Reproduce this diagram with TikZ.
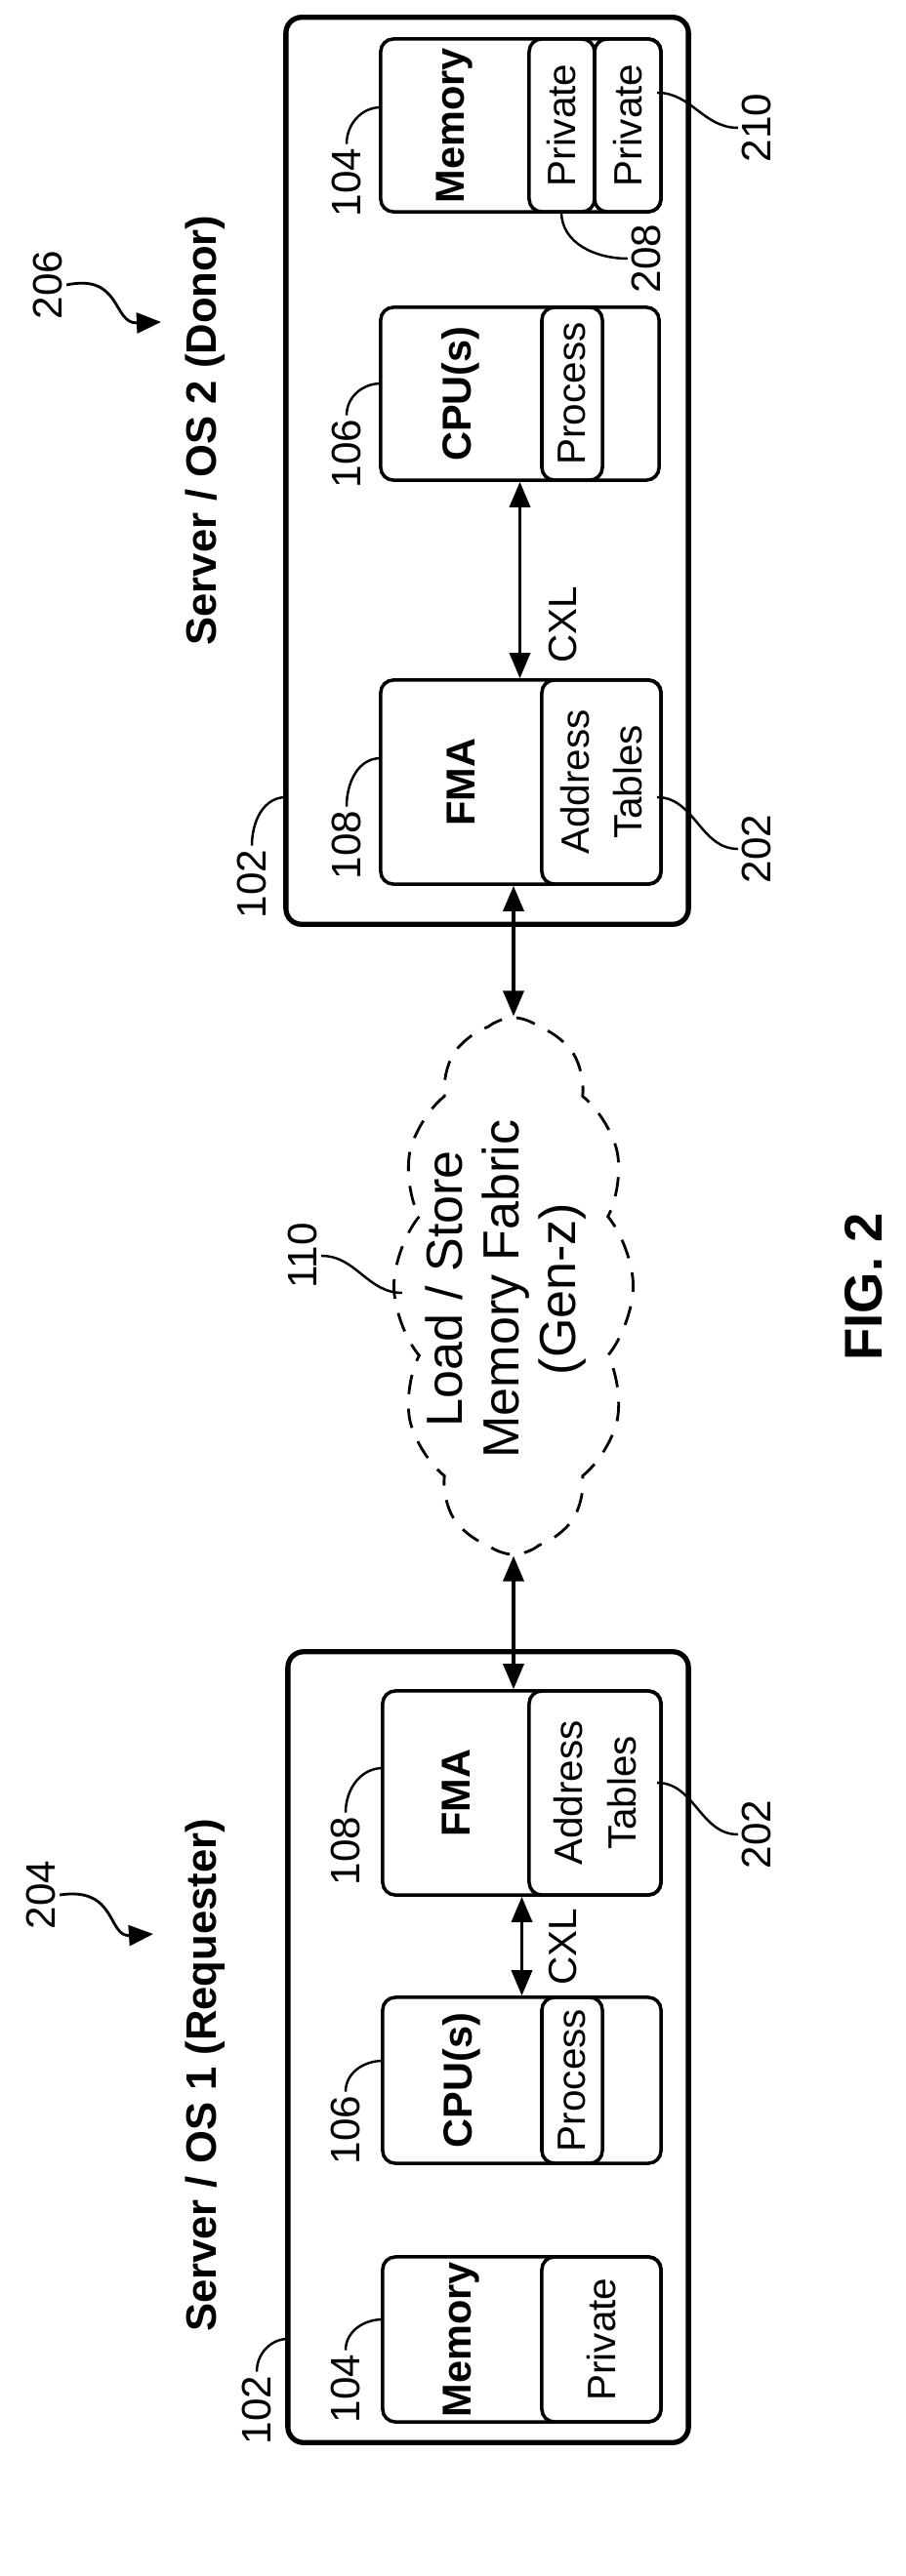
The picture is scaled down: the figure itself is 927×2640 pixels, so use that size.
\documentclass[tikz,border=0pt]{standalone}
\usepackage{fontspec}
\setmainfont{Liberation Sans}
\usetikzlibrary{arrows.meta,shapes.symbols}

\tikzset{
  srv/.style={draw, line width=1.5pt, rounded corners=0.16cm, inner sep=0pt},
  unit/.style={draw, line width=1pt, rounded corners=0.13cm, inner sep=0pt, rotate=90},
  part/.style={unit, font=\fontsize{11.5}{15.5}\selectfont, align=center},
  head/.style={rotate=90, font=\bfseries\fontsize{11.8}{14}\selectfont},
  num/.style={rotate=90, inner sep=1pt, font=\fontsize{12}{14}\selectfont},
  title/.style={rotate=90, font=\bfseries\fontsize{12.4}{14}\selectfont},
  link/.style={line width=1pt, {Triangle[length=0.26cm,width=0.21cm]}-{Triangle[length=0.26cm,width=0.21cm]}},
  lead/.style={line width=0.7pt},
  pointer/.style={line width=0.8pt, -{Triangle[length=0.25cm,width=0.21cm]}}
}

\begin{document}
\begin{tikzpicture}[x=0.01cm, y=-0.01cm]
\useasboundingbox (0,0) rectangle (927,2640);

% server 2 (donor)
\node[srv, minimum width=4.12cm, minimum height=9.29cm] (srvB) at (499,482.5) {};
\node[unit, minimum width=1.77cm, minimum height=2.87cm] (memB) at (533.5,128.5) {};
\node[part, minimum width=1.77cm, minimum height=0.67cm] (pvtA) at (575.5,128.5) {Private};
\node[part, minimum width=1.77cm, minimum height=0.68cm] (pvtB) at (643,128.5) {Private};
\node[unit, minimum width=1.77cm, minimum height=2.85cm] (cpuB) at (532.5,403.5) {};
\node[part, minimum width=1.77cm, minimum height=0.62cm] (procB) at (586,403.5) {Process};
\node[unit, minimum width=2.09cm, minimum height=2.87cm] (fmaB) at (533.5,801.5) {};
\node[part, minimum width=2.09cm, minimum height=1.22cm] (tabB) at (616,801.5) {Address\\Tables};
\node[head] (memBtxt) at (466,128.5) {Memory};
\node[head] (cpuBtxt) at (472,403.5) {CPU(s)};
\node[head] (fmaBtxt) at (472,801.5) {FMA};
\node[rotate=90, font=\fontsize{11.5}{14}\selectfont] (cxlB) at (577,640) {CXL};

% server 1 (requester)
\node[srv, minimum width=4.10cm, minimum height=8.10cm] (srvA) at (500,2098) {};
\node[unit, minimum width=2.09cm, minimum height=2.85cm] (fmaA) at (534.5,1837.5) {};
\node[part, minimum width=2.09cm, minimum height=1.35cm] (tabA) at (609.5,1837.5) {Address\\Tables};
\node[unit, minimum width=1.70cm, minimum height=2.85cm] (cpuA) at (534.5,2132) {};
\node[part, minimum width=1.70cm, minimum height=0.62cm] (procA) at (586,2132) {Process};
\node[unit, minimum width=1.69cm, minimum height=2.85cm] (memA) at (534.5,2397.5) {};
\node[part, minimum width=1.69cm, minimum height=1.22cm] (pvtC) at (616,2397.5) {Private};
\node[head] (fmaAtxt) at (467,1837.5) {FMA};
\node[head] (cpuAtxt) at (473,2132) {CPU(s)};
\node[head] (memAtxt) at (473,2397.5) {Memory};
\node[rotate=90, font=\fontsize{11.5}{14}\selectfont] (cxlA) at (577,1995) {CXL};

% fabric
\node[cloud, draw, dash pattern=on 0.2cm off 0.15cm, line width=0.8pt, cloud puffs=12,
      cloud puff arc=80, aspect=2.4, minimum width=5.5cm, minimum height=2.45cm,
      inner sep=0pt, rotate=90] (fabric) at (526,1318) {};
\node[rotate=90, align=center, font=\fontsize{14.8}{16.5}\selectfont] (fabtxt) at (518,1321)
  {Load / Store\\Memory Fabric\\(Gen-z)};

% titles
\node[title] (donor) at (210,441) {Server / OS 2 (Donor)};
\node[title] (requester) at (210,2127) {Server / OS 1 (Requester)};
\node[rotate=90, font=\bfseries\fontsize{15.5}{18}\selectfont] (fig) at (885,1319) {FIG. 2};

% reference numbers
\node[num] (n206) at (49,292) {206};
\node[num] (n204) at (42,1942) {204};
\node[num] (n102b) at (258,906) {102};
\node[num] (n104b) at (355,187) {104};
\node[num] (n106b) at (355,465) {106};
\node[num] (n108b) at (355,866) {108};
\node[num] (n208) at (662,265) {208};
\node[num] (n210) at (775,131) {210};
\node[num] (n202b) at (775,870) {202};
\node[num] (n110) at (310,1287) {110};
\node[num] (n102a) at (263,2470) {102};
\node[num] (n104a) at (354,2448) {104};
\node[num] (n106a) at (354,2183) {106};
\node[num] (n108a) at (354,1897) {108};
\node[num] (n202a) at (775,1880) {202};

% leader ends on the boxes
\coordinate (e102b) at (293,817);
\coordinate (e104b) at (390,110);
\coordinate (e106b) at (390,393);
\coordinate (e108b) at (390,777);
\coordinate (e208) at (575,217);
\coordinate (e210) at (673,95);
\coordinate (e202b) at (673,817);
\coordinate (e110) at (412,1325);
\coordinate (e102a) at (295,2397);
\coordinate (e104a) at (392,2377);
\coordinate (e106a) at (392,2112);
\coordinate (e108a) at (392,1812);
\coordinate (e202a) at (673,1827);

% links
\draw[link] (fabric.east) -- (fabric.east |- fmaB.west);
\draw[link] (fabric.west) -- (fabric.west |- fmaA.east);
\draw[link] (cpuB.west) -- (cpuB.west |- fmaB.east);
\draw[link] (fmaA.west) -- (fmaA.west |- cpuA.east);

% leaders
\draw[lead] (n102b.east) to[out=90,in=180] (e102b);
\draw[lead] (n104b.east) to[out=90,in=180] (e104b);
\draw[lead] (n106b.east) to[out=90,in=180] (e106b);
\draw[lead] (n108b.east) to[out=90,in=180] (e108b);
\draw[lead] (e208) to[out=-90,in=180] (n208.north);
\draw[lead] (e210) to[out=0,in=180] (n210.north);
\draw[lead] (e202b) to[out=0,in=180] (n202b.north);
\draw[lead] (n110.south) to[out=0,in=180] (e110);
\draw[lead] (n102a.east) to[out=90,in=180] (e102a);
\draw[lead] (n104a.east) to[out=90,in=180] (e104a);
\draw[lead] (n106a.east) to[out=90,in=180] (e106a);
\draw[lead] (n108a.east) to[out=90,in=180] (e108a);
\draw[lead] (e202a) to[out=0,in=180] (n202a.north);

% pointers to the titles
\draw[pointer] (n206.south) .. controls (125,280) and (115,332) .. (165,330);
\draw[pointer] (n204.south) .. controls (120,1933) and (110,1985) .. (157,1982);

\end{tikzpicture}
\end{document}
